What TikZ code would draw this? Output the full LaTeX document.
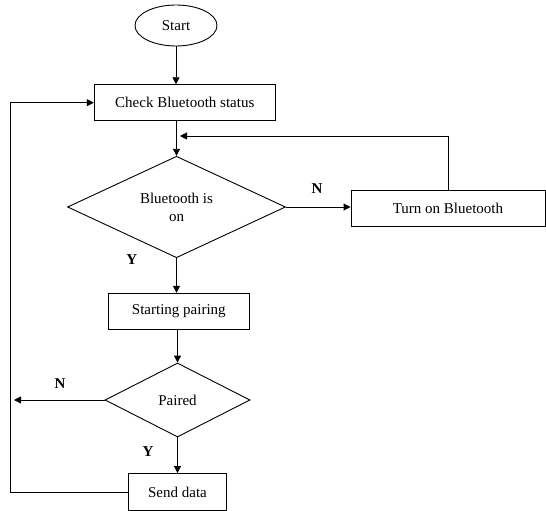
\documentclass[tikz,border=0pt]{standalone}
\usepackage{fontspec}
\setmainfont{Liberation Serif}
\usetikzlibrary{shapes.geometric,arrows.meta}
\tikzset{
  base/.style={draw=black, line width=0.9pt, inner sep=0pt, align=center, font=\fontsize{15}{18}\selectfont},
  procbox/.style={base, rectangle},
  termbox/.style={base, ellipse},
  decbox/.style={base, diamond},
  arr/.style={line width=0.9pt, -{Triangle[length=7pt,width=7pt]}},
  ln/.style={line width=0.9pt},
  lbl/.style={inner sep=0pt, font=\fontsize{15}{18}\selectfont\bfseries}
}
\begin{document}
\begin{tikzpicture}[x=1pt,y=-1pt]
\useasboundingbox (0,0) rectangle (546,511);
\node[termbox, minimum width=82pt, minimum height=41pt] (start) at (176,25.5) {Start};
\node[procbox, minimum width=181pt, minimum height=36pt] (check) at (184.8,102.7) {Check Bluetooth status};
\node[decbox, minimum width=218pt, minimum height=99pt] (dec1) at (176.5,207) {Bluetooth is\\on};
\node[procbox, minimum width=194pt, minimum height=36.7pt] (turn) at (448,208.3) {Turn on Bluetooth};
\node[procbox, minimum width=141pt, minimum height=36pt] (pair) at (178.8,311.3) {Starting pairing};
\node[decbox, minimum width=145pt, minimum height=74pt] (dec2) at (177.5,400) {Paired};
\node[procbox, minimum width=98pt, minimum height=37pt] (send) at (177.5,492) {Send data};

\coordinate (j1) at (180,136);
\coordinate (lx) at (10.5,0);
\coordinate (nend) at (14,400);

\draw[arr] (start.south) -- (start.south |- check.north);
\draw[arr] (dec1.north |- check.south) -- (dec1.north);
\draw[arr] (dec1.east) -- (dec1.east -| turn.west);
\draw[arr] (turn.north) |- (j1);
\draw[arr] (dec1.south) -- (dec1.south |- pair.north);
\draw[arr] (pair.south -| dec2.north) -- (dec2.north);
\draw[arr] (dec2.west) -- (nend);
\draw[arr] (dec2.south) -- (send.north);
\draw[arr] (send.west) -- (send.west -| lx) |- (check.west);

\node[lbl] (n1) at (317,189) {N};
\node[lbl] (y1) at (131.7,260) {Y};
\node[lbl] (n2) at (60,384) {N};
\node[lbl] (y2) at (148,452) {Y};
\end{tikzpicture}
\end{document}
